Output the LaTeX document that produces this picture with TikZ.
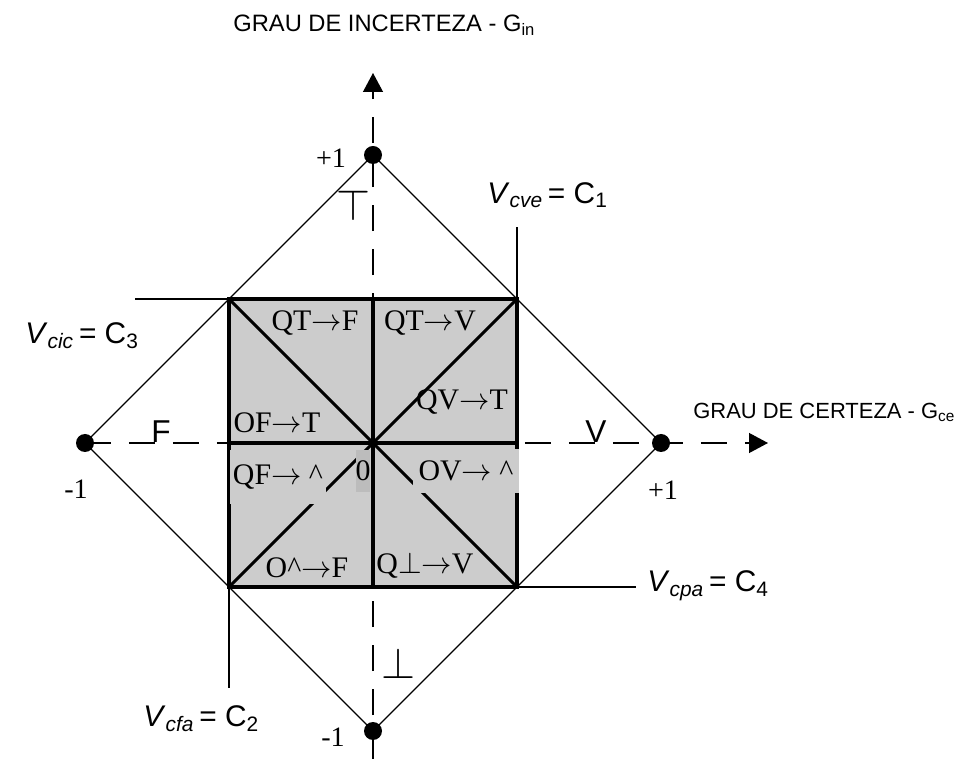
\documentclass[tikz,border=0pt]{standalone}
\usepackage{fontspec}
\setmainfont{Liberation Serif}
\setsansfont{Liberation Sans}
\usepackage{amsmath}
\usepackage{amssymb}
\usepackage{xcolor}
\usepackage{tikz}
\usetikzlibrary{arrows.meta,positioning,calc}
\definecolor{quadgray}{RGB}{204,204,204}
\definecolor{zerogray}{RGB}{188,188,188}

\begin{document}
\begin{tikzpicture}[x=0.02cm, y=-0.02cm,
    diamondline/.style={line width=0.7pt},
    leadline/.style={line width=0.8pt},
    boxline/.style={line width=1.8pt},
    axisline/.style={line width=0.7pt, dash pattern=on 0.52cm off 0.36cm,
      -{Triangle[length=0.38cm, width=0.4cm]}},
    dot/.style={circle, fill=black, inner sep=0pt, minimum size=0.36cm},
    quad/.style={inner sep=0pt, font=\fontsize{17}{20}\selectfont},
    num/.style={inner sep=0pt, font=\fontsize{16}{19}\selectfont},
    vlabel/.style={anchor=west, inner sep=0pt, font=\sffamily\fontsize{17}{20}\selectfont},
    axtitle/.style={anchor=west, inner sep=0pt, font=\sffamily\fontsize{12.5}{15}\selectfont},
    letter/.style={inner sep=0pt, font=\sffamily\fontsize{18}{21}\selectfont},
    symb/.style={inner sep=0pt, font=\fontsize{24}{28}\selectfont}]
  \useasboundingbox (0,0) rectangle (974,759);

  % lattice corners (+1 / -1 on both axes), origin at (373,443)
  \node[dot] (pT) at (373,155) {};
  \node[dot] (pB) at (373,731) {};
  \node[dot] (pF) at (85,443) {};
  \node[dot] (pV) at (661,443) {};

  % square of the limit values
  \coordinate (c3) at (229,299);
  \coordinate (c1) at (517,299);
  \coordinate (c2) at (229,587);
  \coordinate (c4) at (517,587);
  \coordinate (sT) at (373,299);
  \coordinate (sB) at (373,587);
  \coordinate (sL) at (229,443);
  \coordinate (sR) at (517,443);
  \fill[quadgray] (c3) rectangle (c4);

  % axes
  \coordinate (ytop) at (373,73);
  \coordinate (ybot) at (373,759);
  \coordinate (xend) at (768,443);
  \draw[axisline] (ybot) -- (ytop);
  \draw[axisline] (pF.center) -- (xend);

  \draw[diamondline] (pT.center) -- (pV.center) -- (pB.center) -- (pF.center) -- cycle;
  \draw[boxline] (c3) rectangle (c4);
  \draw[boxline] (c3) -- (c4) (c1) -- (c2);
  \draw[boxline] (sT) -- (sB) (sL) -- (sR);

  % control limits
  \coordinate (e3) at (135,299);
  \coordinate (e1) at (517,227);
  \coordinate (e2) at (229,688);
  \coordinate (e4) at (636,587);
  \draw[leadline] (c3) -- (e3);
  \draw[leadline] (c1) -- (e1);
  \draw[leadline] (c2) -- (e2);
  \draw[leadline] (c4) -- (e4);
  \node[vlabel] (v3) at (25,336) {\textit{V}\textsubscript{\textit{cic}}\,= C\textsubscript{3}};
  \node[vlabel] (v1) at (487,195) {\textit{V}\textsubscript{\textit{cve}}\,= C\textsubscript{1}};
  \node[vlabel] (v2) at (143,719) {\textit{V}\textsubscript{\textit{cfa}}\,= C\textsubscript{2}};
  \node[vlabel] (v4) at (647,586) {\textit{V}\textsubscript{\textit{cpa}}\,= C\textsubscript{4}};

  % axis titles
  \node[axtitle, font=\sffamily\fontsize{13.5}{16}\selectfont] (gin) at (233,25) {GRAU DE INCERTEZA - G\textsubscript{in}};
  \node[axtitle] (gce) at (693,412) {GRAU DE CERTEZA - G\textsubscript{ce}};

  % axis values
  \node[num] (nT) at (331,158) {+1};
  \node[num] (nF) at (76,489) {-1};
  \node[num] (nV) at (663,490) {+1};
  \node[num] (nB) at (333,737) {-1};

  % extreme states
  \node[letter] (sF) at (161,432) {F};
  \node[letter] (sV) at (596,432) {V};
  \node[symb] (sTop) at (353,205) {$\top$};
  \node[symb] (sBot) at (398,663) {$\perp$};

  % non-extreme states
  \node[quad] (qtf) at (315,323) {QT$\rightarrow$F};
  \node[quad] (qtv) at (430,323) {QT$\rightarrow$V};
  \node[quad] (qvt) at (462,402) {QV$\rightarrow$T};
  \node[quad] (oft) at (277,423) {OF$\rightarrow$T};
  \node[quad, fill=quadgray, inner xsep=0.06cm, minimum height=1.1cm] (qfb) at (278,477) {QF$\rightarrow$ \textasciicircum};
  \node[quad, fill=zerogray, minimum width=0.28cm, minimum height=0.84cm] (zero) at (363,471) {0};
  \node[quad, fill=quadgray, inner xsep=0.12cm, minimum height=0.9cm] (ovb) at (466,471) {OV$\rightarrow$ \textasciicircum};
  \node[quad] (obf) at (307,568) {O\textasciicircum$\rightarrow$F};
  \node[quad] (qbv) at (425,565) {Q$\perp$$\rightarrow$V};
\end{tikzpicture}
\end{document}
